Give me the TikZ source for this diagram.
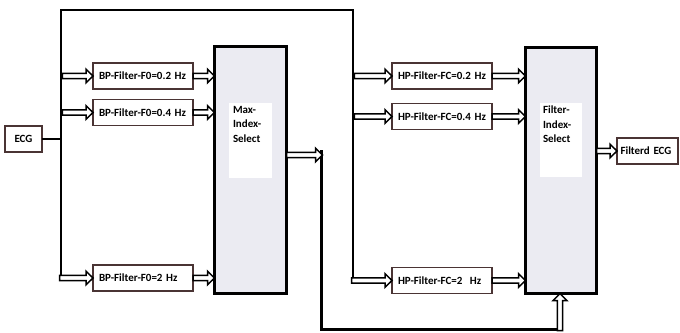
\documentclass[tikz,border=0pt]{standalone}
\usepackage{fontspec}
\setmainfont{Carlito}
\usetikzlibrary{arrows.meta,calc}
\definecolor{boxline}{HTML}{4A3434}
\definecolor{bigfill}{HTML}{EBEBF2}
\begin{document}
\begin{tikzpicture}[x=1pt,y=-1pt,
  every node/.style={font=\fontsize{11}{14.5}\selectfont\bfseries, inner sep=0pt, outer sep=0pt},
  smallbox/.style={draw=boxline, line width=1.1pt, fill=white, minimum height=26pt, align=left},
  bigbox/.style={draw=black, line width=2.8pt, fill=bigfill},
  innerbox/.style={fill=white, draw=none},
  bus/.style={line width=2.8pt},
  harrow/.style={draw=black, fill=white, line width=1.5pt, line join=miter,
    to path={let \p1=(\tikztostart), \p2=(\tikztotarget) in
      (\x1,\y1+2.6pt) -- (\x2-7pt,\y1+2.6pt) -- (\x2-7pt,\y1+6.8pt) -- (\x2,\y1)
      -- (\x2-7pt,\y1-6.8pt) -- (\x2-7pt,\y1-2.6pt) -- (\x1,\y1-2.6pt) -- cycle}},
  varrow/.style={draw=black, fill=white, line width=1.5pt, line join=miter,
    to path={let \p1=(\tikztostart), \p2=(\tikztotarget) in
      (\x1-2.6pt,\y1) -- (\x1-2.6pt,\y2-7pt) -- (\x1-6.8pt,\y2-7pt) -- (\x1,\y2)
      -- (\x1+6.8pt,\y2-7pt) -- (\x1+2.6pt,\y2-7pt) -- (\x1+2.6pt,\y1) -- cycle}},
]
\useasboundingbox (0,0) rectangle (680,332);
% nodes
\node[smallbox, minimum width=37pt] (ecg) at (23.5,139) {ECG};
\node[smallbox, minimum width=100pt, text width=88pt] (bp1) at (143,76) {BP-Filter-F0=0.2 Hz};
\node[smallbox, minimum width=100pt, text width=88pt] (bp2) at (143,112.5) {BP-Filter-F0=0.4 Hz};
\node[smallbox, minimum width=100pt, text width=88pt] (bp3) at (143,278) {BP-Filter-F0=2 Hz};
\node[bigbox, minimum width=72pt, minimum height=247pt] (max) at (250.5,170) {};
\node[innerbox, minimum width=43pt, minimum height=75pt] (maxin) at (250.5,140.5) {};
\node[anchor=north west, align=left] (maxtxt) at (233,106) {Max-\\Index-\\Select};
\node[smallbox, minimum width=100pt, text width=88pt] (hp1) at (442,76) {HP-Filter-FC=0.2 Hz};
\node[smallbox, minimum width=100pt, text width=88pt] (hp2) at (442,116.5) {HP-Filter-FC=0.4 Hz};
\node[smallbox, minimum width=100pt, text width=88pt] (hp3) at (442,280.5) {HP-Filter-FC=2~ Hz};
\node[bigbox, minimum width=71pt, minimum height=246pt] (fis) at (561,170.5) {};
\node[innerbox, minimum width=42pt, minimum height=74pt] (fisin) at (561,140) {};
\node[anchor=north west, align=left] (fistxt) at (543,106) {Filter-\\Index-\\Select};
\node[smallbox, minimum width=61pt, text width=54pt] (out) at (647.5,151) {Filterd ECG};
% bus coordinates
\coordinate (b0) at (61,139);
\coordinate (btop) at (61,10);
\coordinate (bbot) at (61,280.6);
\coordinate (rtop) at (353,10);
\coordinate (rbot) at (353,283.1);
\coordinate (m1) at (321.5,150);
\coordinate (m2) at (321.5,329.5);
\coordinate (m3) at (562.6,329.5);
\coordinate (fb) at (560,330.5);
% bus lines
\draw[bus] (ecg.east) -- (b0);
\draw[bus] (bbot) -- (btop) -- (rtop) -- (rbot);
\draw[bus] (m1) -- (m2) -- (m3);
% arrows from left bus
\path (62.4,76) edge[harrow] (bp1.west);
\path (62.4,112.5) edge[harrow] (bp2.west);
\path (bp3.west -| 59.6,0) edge[harrow] (bp3.west);
\path (bp1.east) edge[harrow] (bp1.east -| max.west);
\path (bp2.east) edge[harrow] (bp2.east -| max.west);
\path (bp3.east) edge[harrow] (bp3.east -| max.west);
% max output
\path (max.east |- 0,155) edge[harrow] (322.5,155);
% right bus arrows
\path (354.4,76) edge[harrow] (hp1.west);
\path (354.4,116.5) edge[harrow] (hp2.west);
\path (hp3.west -| 351.6,0) edge[harrow] (hp3.west);
\path (hp1.east) edge[harrow] (hp1.east -| fis.west);
\path (hp2.east) edge[harrow] (hp2.east -| fis.west);
\path (hp3.east) edge[harrow] (hp3.east -| fis.west);
% feedback into fis
\path (fb) edge[varrow] (fis.south -| fb);
% output
\path (fis.east |- out.west) edge[harrow] (out.west);
\end{tikzpicture}
\end{document}
